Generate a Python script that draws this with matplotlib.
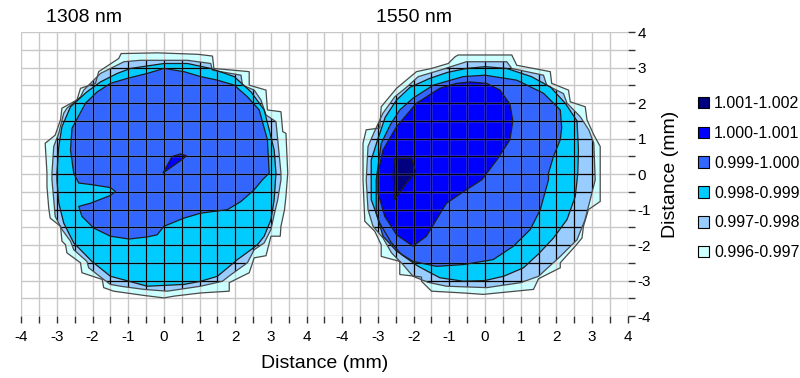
import matplotlib
matplotlib.use("Agg")
import matplotlib.pyplot as plt
from matplotlib.patches import Polygon, Patch
import numpy as np

plt.rcParams['font.family'] = ['Liberation Sans', 'DejaVu Sans']
plt.rcParams['axes.unicode_minus'] = False

# contour levels (legend order, top to bottom) and fill colours
levels = ['1.001-1.002', '1.000-1.001', '0.999-1.000',
          '0.998-0.999', '0.997-0.998', '0.996-0.997']
colors = ['#000080', '#0000FF', '#3366FF', '#00CCFF', '#99CCFF', '#CCFFFF']

titles = ['1308 nm', '1550 nm']
tick_labels = ['-4', '-3', '-2', '-1', '0', '1', '2', '3', '4']

# ---- 1308 nm: boundary of each region (mm) ----
left_0996 = [(-1.27, 3.26), (-1.2, 3.40), (-0.19, 3.42), (0.94, 3.38), (1.36, 3.33), (1.40, 2.98),
             (2.39, 2.89), (2.39, 2.51), (2.86, 2.37), (2.90, 1.81), (3.28, 1.76), (3.33, 1.20),
             (3.42, 1.15), (3.47, 0.03), (3.42, -0.63), (3.38, -1.0), (3.28, -1.47), (3.26, -1.75),
             (3.0, -1.75), (2.86, -2.3), (2.53, -2.36), (2.39, -2.78), (1.83, -3.06), (1.83, -3.3),
             (1.03, -3.35), (0.28, -3.44), (0.0, -3.49), (-0.56, -3.42), (-1.41, -3.3), (-1.69, -3.2),
             (-1.73, -2.97), (-2.3, -2.78), (-2.34, -2.5), (-2.72, -2.22), (-2.76, -1.99), (-2.86, -1.89),
             (-2.9, -1.47), (-3.19, -1.24), (-3.23, -0.96), (-3.28, -0.35), (-3.28, 0.03), (-3.33, 0.87),
             (-3.05, 1.10), (-2.9, 1.53), (-2.86, 1.86), (-2.44, 2.09), (-2.34, 2.42), (-1.92, 2.56),
             (-1.83, 2.89)]
left_0997 = [(-1.12, 3.17), (-0.66, 3.21), (0.66, 3.21), (1.31, 3.12), (1.36, 2.93), (2.16, 2.79),
             (2.20, 2.51), (2.53, 2.37), (2.72, 2.09), (2.86, 1.67), (3.14, 1.48), (3.19, 0.97),
             (3.28, 0.03), (3.28, -0.16), (3.19, -0.72), (3.09, -1.14), (3.0, -1.56), (2.81, -1.94),
             (2.53, -2.13), (2.34, -2.5), (1.87, -2.84), (1.64, -3.02), (1.03, -3.16), (0.09, -3.3),
             (-0.56, -3.25), (-1.22, -3.16), (-1.5, -3.11), (-1.69, -2.97), (-2.11, -2.64), (-2.16, -2.46),
             (-2.53, -2.13), (-2.62, -1.89), (-2.86, -1.56), (-3.05, -1.19), (-3.09, -0.72), (-3.14, -0.16),
             (-3.14, 0.03), (-3.09, 0.78), (-2.95, 1.15), (-2.81, 1.72), (-2.72, 1.86), (-2.34, 2.18),
             (-2.25, 2.37), (-1.87, 2.75), (-1.78, 2.84)]
left_0998 = [(-1.31, 2.84), (-0.94, 2.98), (0.0, 3.12), (0.66, 3.12), (1.31, 2.98), (1.97, 2.75),
             (2.44, 2.32), (2.81, 1.81), (2.95, 1.25), (3.09, 0.68), (3.14, 0.03), (3.09, -0.72),
             (3.0, -1.28), (2.81, -1.75), (2.62, -1.99), (2.44, -2.13), (2.06, -2.41), (1.5, -2.88),
             (1.03, -3.02), (0.56, -3.11), (-0.47, -3.16), (-0.98, -3.02), (-1.5, -2.88), (-2.02, -2.46),
             (-2.53, -1.94), (-2.81, -1.38), (-2.95, -0.81), (-3.0, -0.16), (-3.0, 0.03), (-2.95, 0.78),
             (-2.86, 1.34), (-2.62, 1.9), (-2.16, 2.32), (-1.78, 2.6)]
left_0999 = [(0.0, 2.98), (0.56, 2.89), (1.03, 2.75), (1.5, 2.65), (1.97, 2.51), (2.34, 2.18),
             (2.67, 1.81), (2.9, 0.97), (2.95, 0.03), (2.76, -0.16), (2.53, -0.44), (2.16, -0.77),
             (1.78, -1.0), (1.03, -1.1), (0.56, -1.24), (0.0, -1.47), (-0.19, -1.71), (-0.47, -1.77),
             (-0.98, -1.83), (-1.5, -1.75), (-1.97, -1.52), (-2.3, -1.19), (-2.39, -0.91), (-2.06, -0.82),
             (-1.5, -0.6), (-1.36, -0.49), (-1.5, -0.38), (-2.0, -0.3), (-2.39, -0.25), (-2.53, 0.03),
             (-2.62, 0.68), (-2.58, 1.29), (-2.2, 2.0), (-1.87, 2.32), (-1.5, 2.56), (-1.03, 2.7),
             (-0.47, 2.84)]
left_1000 = [(-0.03, 0.03), (0.23, 0.5), (0.47, 0.57), (0.63, 0.52), (0.52, 0.42)]

# ---- 1550 nm ----
right_0996 = [(-0.84, 3.31), (-0.75, 3.36), (0.75, 3.36), (0.89, 3.07), (1.83, 2.89), (1.87, 2.56),
              (2.34, 2.37), (2.39, 2.04), (2.81, 1.9), (2.86, 1.53), (3.05, 1.11), (3.23, 0.78),
              (3.23, -0.77), (2.9, -1.0), (2.76, -1.47), (2.72, -1.8), (2.53, -2.03), (2.11, -2.5),
              (2.11, -2.64), (1.5, -2.95), (1.36, -3.25), (-0.05, -3.39), (-0.61, -3.35), (-1.5, -3.3),
              (-1.78, -3.02), (-1.78, -2.9), (-2.39, -2.83), (-2.39, -2.46), (-2.91, -2.32), (-2.91, -1.99),
              (-3.09, -1.61), (-3.37, -1.33), (-3.42, -0.16), (-3.42, 0.87), (-3.33, 1.25), (-2.95, 1.3),
              (-2.91, 1.9), (-2.48, 2.42), (-1.92, 2.89), (-1.5, 2.98), (-1.03, 3.12)]
right_0997 = [(-0.52, 3.17), (0.61, 3.17), (0.75, 2.98), (1.64, 2.79), (1.73, 2.51), (2.2, 2.27),
              (2.3, 2.0), (2.67, 1.62), (2.91, 1.25), (3.05, 0.87), (3.09, -0.16), (2.95, -0.72),
              (2.8, -1.3), (2.58, -1.85), (2.11, -2.32), (1.5, -2.88), (1.0, -3.06), (0.05, -3.2),
              (-1.08, -3.16), (-1.6, -3.05), (-2.02, -2.88), (-2.3, -2.55), (-2.62, -2.22), (-2.86, -1.8),
              (-3.14, -1.47), (-3.28, -1.0), (-3.33, -0.16), (-3.28, 0.78), (-3.1, 1.2), (-2.86, 1.72),
              (-2.53, 2.18), (-2.2, 2.45), (-1.87, 2.75), (-1.27, 2.93)]
right_0998 = [(-0.52, 2.98), (0.0, 3.03), (0.61, 2.98), (1.3, 2.75), (1.83, 2.46), (2.25, 2.0),
              (2.58, 1.5), (2.62, 0.68), (2.6, 0.0), (2.53, -0.63), (2.3, -1.28), (1.92, -1.8),
              (1.5, -2.25), (1.08, -2.64), (0.52, -2.88), (0.0, -3.0), (-0.61, -3.02), (-1.27, -2.92),
              (-1.87, -2.6), (-2.34, -2.27), (-2.65, -1.9), (-2.95, -1.38), (-3.19, -0.72), (-3.19, 0.4),
              (-3.0, 1.0), (-2.8, 1.6), (-2.48, 2.09), (-2.1, 2.45), (-1.55, 2.7), (-1.05, 2.87)]
right_0999 = [(-2.02, 2.14), (-1.45, 2.51), (-0.61, 2.75), (0.0, 2.79), (0.89, 2.65), (1.64, 2.28),
              (2.11, 1.81), (2.15, 1.31), (2.11, 0.97), (1.92, 0.5), (1.78, 0.03), (1.78, -0.16),
              (1.55, -1.0), (1.27, -1.56), (0.8, -2.03), (0.23, -2.41), (-0.61, -2.55), (-1.36, -2.6),
              (-2.02, -2.46), (-2.48, -2.17), (-2.86, -1.75), (-3.05, -1.1), (-3.05, -0.16), (-2.91, 0.87),
              (-2.65, 1.4), (-2.39, 1.81)]
right_1000 = [(-0.42, 2.6), (0.05, 2.56), (0.42, 2.37), (0.7, 1.97), (0.78, 1.5), (0.7, 0.97),
              (0.33, 0.4), (-0.09, -0.16), (-0.52, -0.44), (-1.08, -0.82), (-1.36, -1.28), (-1.64, -1.75),
              (-2.02, -2.03), (-2.48, -1.71), (-2.81, -1.19), (-3.0, -0.53), (-3.0, 0.03), (-2.86, 0.68),
              (-2.48, 1.34), (-1.92, 2.0), (-1.27, 2.42), (-0.8, 2.56)]
right_1001 = [(-2.53, 0.45), (-2.06, 0.45), (-1.94, 0.07), (-2.16, -0.2), (-2.53, -0.72), (-2.58, 0.0)]

left_regions = [left_0996, left_0997, left_0998, left_0999, left_1000]
left_colors = [colors[5], colors[4], colors[3], colors[2], colors[1]]
right_regions = [right_0996, right_0997, right_0998, right_0999, right_1000, right_1001]
right_colors = [colors[5], colors[4], colors[3], colors[2], colors[1], colors[0]]

offset = 9.0   # second panel sits 9 mm to the right on the shared axis

fig = plt.figure(figsize=(8, 3.78), dpi=100)
ax = fig.add_axes([0.0266, 0.164, 0.758, 0.7506])
ax.set_xlim(-4, 13)
ax.set_ylim(-4, 4)

grid_x = np.arange(-4, 13.01, 0.5)
grid_y = np.arange(-4, 4.01, 0.5)

clip_patches = []
for regions, cols, dx in [(left_regions, left_colors, 0.0), (right_regions, right_colors, offset)]:
    for k, (reg, c) in enumerate(zip(regions, cols)):
        pts = np.array(reg) + [dx, 0]
        ax.add_patch(Polygon(pts, closed=True, facecolor=c, edgecolor='none', zorder=1))
        edge_col = '#4a4a4a' if k < 2 else '#1e1e1e'
        ax.add_patch(Polygon(pts, closed=True, facecolor='none', edgecolor=edge_col, lw=0.9, zorder=4))
        if k == 1:
            clip_patches.append(Polygon(pts, closed=True, transform=ax.transData,
                                        facecolor='none', edgecolor='none'))

# light grid everywhere
ax.vlines(grid_x, -4, 4, colors='#c8c8c8', lw=1.0, zorder=2)
ax.hlines(grid_y, -4, 13, colors='#c8c8c8', lw=1.0, zorder=2)
# dark grid inside the measured area
for cp in clip_patches:
    ax.add_patch(cp)
    v = ax.vlines(grid_x, -4, 4, colors='black', lw=0.9, zorder=3)
    h = ax.hlines(grid_y, -4, 13, colors='black', lw=0.9, zorder=3)
    v.set_clip_path(cp)
    h.set_clip_path(cp)

for s in ax.spines.values():
    s.set_visible(False)

xt = list(np.arange(-4, 5)) + list(np.arange(-4, 5) + offset)
ax.set_xticks(xt)
ax.set_xticklabels(tick_labels + tick_labels)
ax.set_xticks(grid_x, minor=True)
ax.set_yticks(np.arange(-4, 5))
ax.set_yticklabels(tick_labels)
ax.set_yticks(grid_y, minor=True)
ax.yaxis.tick_right()
ax.yaxis.set_label_position('right')
ax.tick_params(which='both', direction='out', length=5, width=1, color='#333333',
               labelsize=11, pad=2)
ax.tick_params(axis='x', which='major', pad=5)

ax.set_xlabel('Distance (mm)', fontsize=14, labelpad=8)
ax.set_ylabel('Distance (mm)', fontsize=14, labelpad=8)

fig.text(46 / 800, 1 - 17 / 378, titles[0], fontsize=14, ha='left', va='center')
fig.text(376 / 800, 1 - 17 / 378, titles[1], fontsize=14, ha='left', va='center')

handles = [Patch(facecolor=c, edgecolor='black', lw=0.8) for c in colors]
fig.legend(handles, levels, loc='upper left', bbox_to_anchor=(0.862, 0.767), frameon=False,
           fontsize=11.5, handlelength=0.72, handleheight=0.72, handletextpad=0.3,
           labelspacing=0.93, borderpad=0)

fig.savefig('out.png', dpi=100)
